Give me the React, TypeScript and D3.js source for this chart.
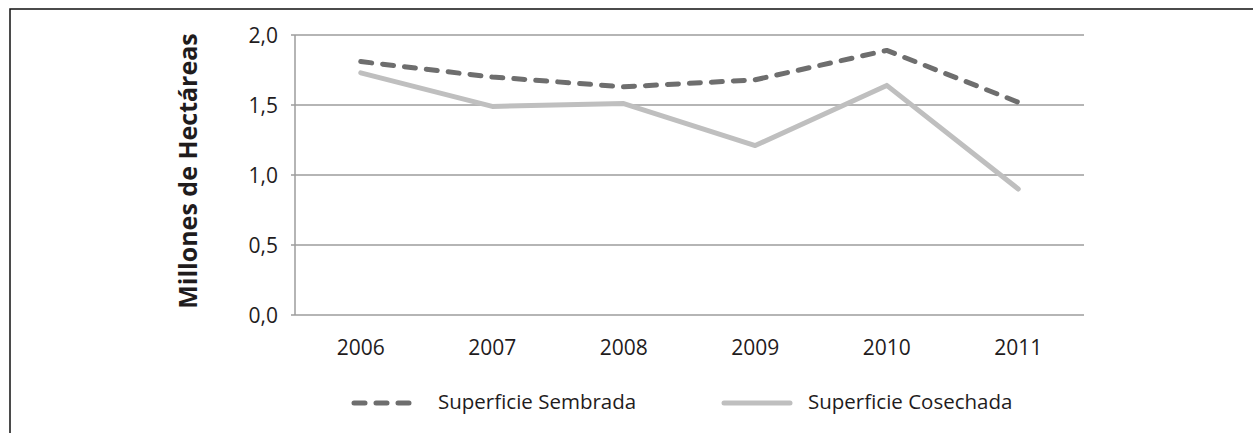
import React from 'react'
import { useRef, useEffect } from 'react'
import * as d3 from 'd3'

// data
const years = ['2006', '2007', '2008', '2009', '2010', '2011']
const sembrada = [1.81, 1.70, 1.63, 1.68, 1.89, 1.52]
const cosechada = [1.73, 1.49, 1.51, 1.21, 1.64, 0.90]
const yTicks = [0, 0.5, 1.0, 1.5, 2.0]

const W = 1253
const H = 433
const FONT = '"Open Sans", "DejaVu Sans", sans-serif'
const TEXT = '#1f1c1d'

export default function App() {
  const svgRef = useRef<SVGSVGElement>(null)

  useEffect(() => {
    const svg = d3.select(svgRef.current)
    svg.selectAll('*').remove()

    const left = 295
    const right = 1084
    const top = 35
    const bottom = 315

    // scales
    const x = d3.scaleBand().domain(years).range([left, right])
    const y = d3.scaleLinear().domain([0, 2]).range([bottom, top])
    const cx = (d: string) => (x(d) as number) + x.bandwidth() / 2

    // outer frame
    svg.append('rect')
      .attr('x', 10).attr('y', 9)
      .attr('width', 1300).attr('height', 500)
      .attr('fill', 'none').attr('stroke', '#111').attr('stroke-width', 1.5)

    // gridlines + y labels
    const grid = svg.append('g')
    grid.selectAll('line')
      .data(yTicks)
      .enter()
      .append('line')
      .attr('x1', left - 4).attr('x2', right)
      .attr('y1', d => y(d)).attr('y2', d => y(d))
      .attr('stroke', '#9d9d9d').attr('stroke-width', 1.5)

    grid.selectAll('text')
      .data(yTicks)
      .enter()
      .append('text')
      .attr('x', 278)
      .attr('y', d => y(d) + 8)
      .attr('text-anchor', 'end')
      .style('font-family', FONT).style('font-size', '21px').style('fill', TEXT)
      .text(d => d3.format('.1f')(d).replace('.', ','))

    // left axis line
    svg.append('line')
      .attr('x1', left).attr('x2', left)
      .attr('y1', top).attr('y2', bottom)
      .attr('stroke', '#9d9d9d').attr('stroke-width', 1.5)

    // x labels
    svg.append('g').selectAll('text')
      .data(years)
      .enter()
      .append('text')
      .attr('x', d => cx(d))
      .attr('y', 355)
      .attr('text-anchor', 'middle')
      .style('font-family', FONT).style('font-size', '21px').style('fill', TEXT)
      .text(d => d)

    // y axis title
    svg.append('text')
      .attr('transform', 'translate(197, 171) rotate(-90)')
      .attr('text-anchor', 'middle')
      .style('font-family', FONT).style('font-size', '25px').style('font-weight', 'bold').style('fill', TEXT)
      .text('Millones de Hectáreas')

    // lines
    const line = d3.line<number>()
      .x((_, i) => cx(years[i]))
      .y(d => y(d))

    svg.append('path')
      .datum(cosechada)
      .attr('d', line)
      .attr('fill', 'none')
      .attr('stroke', '#bfbfbf').attr('stroke-width', 5)
      .attr('stroke-linecap', 'round').attr('stroke-linejoin', 'round')

    svg.append('path')
      .datum(sembrada)
      .attr('d', line)
      .attr('fill', 'none')
      .attr('stroke', '#6e6e6e').attr('stroke-width', 5)
      .attr('stroke-dasharray', '11 11')
      .attr('stroke-linecap', 'round').attr('stroke-linejoin', 'round')

    // legend
    const legend = [
      { name: 'Superficie Sembrada', color: '#6e6e6e', dash: '11 11', x: 354 },
      { name: 'Superficie Cosechada', color: '#bfbfbf', dash: null, x: 724 },
    ]
    const lg = svg.append('g')
    legend.forEach(l => {
      lg.append('line')
        .attr('x1', l.x).attr('x2', l.x + 66)
        .attr('y1', 403).attr('y2', 403)
        .attr('stroke', l.color).attr('stroke-width', 5)
        .attr('stroke-linecap', 'round')
        .attr('stroke-dasharray', l.dash)
      lg.append('text')
        .attr('x', l.x + 84)
        .attr('y', 409)
        .style('font-family', FONT).style('font-size', '20.5px').style('fill', TEXT)
        .text(l.name)
    })
  }, [])

  return (
    <div>
      <svg ref={svgRef} width={W} height={H}
        style={{ position: 'absolute', left: 0, top: 0, background: '#fff' }}></svg>
    </div>
  )
}
